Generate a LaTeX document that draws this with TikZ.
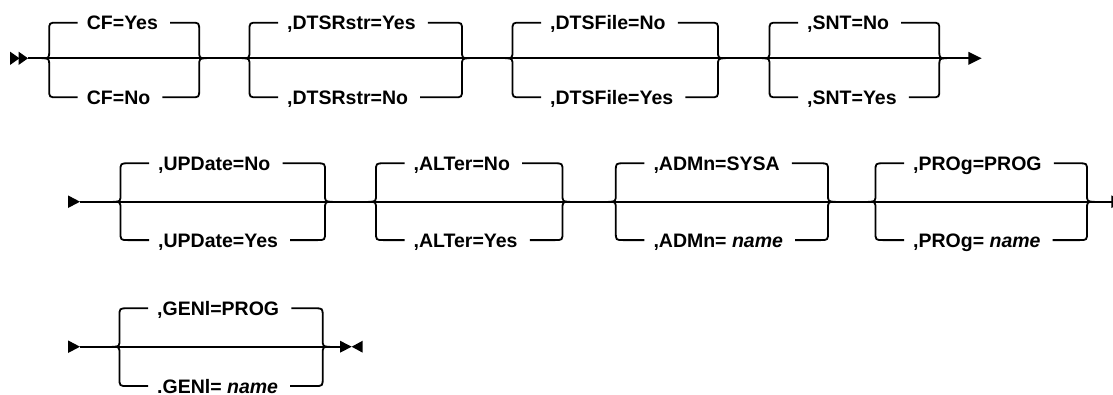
\documentclass[tikz,border=0pt]{standalone}
\usepackage{fontspec}
\newfontfamily\optfont{Liberation Sans}
\usetikzlibrary{arrows.meta}
\tikzset{
  rail/.style={line width=1.8pt},
  opt/.style={inner sep=0pt, text height=14pt, text depth=0pt, anchor=west,
    font=\optfont\bfseries\fontsize{19.5}{23}\selectfont},
  choice up/.store in=\chup, choice up=38.4,
  choice down/.store in=\chdn, choice down=38.4,
  % a choice between two values, origin at the left tip, #3 = tip to tip
  pics/choice/.style n args={3}{code={
    \node[opt] (-top) at (45,-\chup) {#1};
    \node[opt] (-bot) at (45,\chdn) {#2};
    \draw[rail] (36,-\chup) -- (15.5,-\chup) .. controls (7.5,-\chup) .. (7.5,-\chup+8)
      -- (7.5,-8) .. controls (7.5,0) .. (0,0) .. controls (7.5,0) .. (7.5,8)
      -- (7.5,\chdn-8) .. controls (7.5,\chdn) .. (15.5,\chdn) -- (36,\chdn);
    \draw[rail] ([xshift=12pt]-top.east) -- (#3-15.5,-\chup) .. controls (#3-7.5,-\chup) .. (#3-7.5,-\chup+8)
      -- (#3-7.5,-8) .. controls (#3-7.5,0) .. (#3,0) .. controls (#3-7.5,0) .. (#3-7.5,8)
      -- (#3-7.5,\chdn-8) .. controls (#3-7.5,\chdn) .. (#3-15.5,\chdn) -- ([xshift=12pt]-bot.east);
  }}
}

\begin{document}
\begin{tikzpicture}[x=1pt, y=-1pt]
\useasboundingbox (0,0) rectangle (1113,394);

% first row
\begin{scope}[choice up=35.6, choice down=39]
\coordinate (r1a) at (28,58.3);
\coordinate (r1b) at (981.7,58.3);
\fill (10,51.6) -- (19.5,58.3) -- (10,65) -- cycle;
\fill (18.5,51.6) -- (28,58.3) -- (18.5,65) -- cycle;
\draw[rail, -{Triangle[length=13.4pt, width=12.6pt]}] (r1a) -- (r1b);
\pic (cf) at (41.7,58.3) {choice={CF=Yes}{CF=No}{165}};
\pic (dtsr) at (242,58.3) {choice={,DTSRstr=Yes}{,DTSRstr=No}{227.5}};
\pic (dtsf) at (505,58.3) {choice={,DTSFile=No}{,DTSFile=Yes}{220.5}};
\pic (snt) at (762,58.3) {choice={,SNT=No}{,SNT=Yes}{184.8}};
\end{scope}

% second row
\coordinate (r2a) at (80,201.7);
\coordinate (r2b) at (1113,201.7);
\fill (68,195.4) -- (80,201.7) -- (68,208) -- cycle;
\draw[rail] (r2a) -- (r2b);
\pic (upd) at (113,201.7) {choice={,UPDate=No}{,UPDate=Yes}{219.5}};
\pic (alt) at (368.5,201.7) {choice={,ALTer=No}{,ALTer=Yes}{201.5}};
\pic (admn) at (608.3,201.7) {choice={,ADMn=SYSA}{,ADMn= \textit{name}}{227.2}};
\pic (prog) at (868,201.7) {choice={,PROg=PROG}{,PROg= \textit{name}}{226.5}};
\begin{scope}
\clip (0,0) rectangle (1113,394);
\fill (1111.3,195.4) -- (1124,201.7) -- (1111.3,208) -- cycle;
\end{scope}

% third row
\begin{scope}[choice down=39.3]
\coordinate (r3a) at (80,346.7);
\coordinate (r3b) at (340,346.7);
\fill (68,340.4) -- (80,346.7) -- (68,353) -- cycle;
\draw[rail] (r3a) -- (r3b);
\pic (genl) at (112,346.7) {choice={,GENl=PROG}{.GENl= \textit{name}}{218.2}};
\fill (340,340.7) -- (351.7,346.7) -- (340,352.7) -- cycle;
\fill (362.7,340.7) -- (351.7,346.7) -- (362.7,352.7) -- cycle;
\end{scope}
\end{tikzpicture}
\end{document}
